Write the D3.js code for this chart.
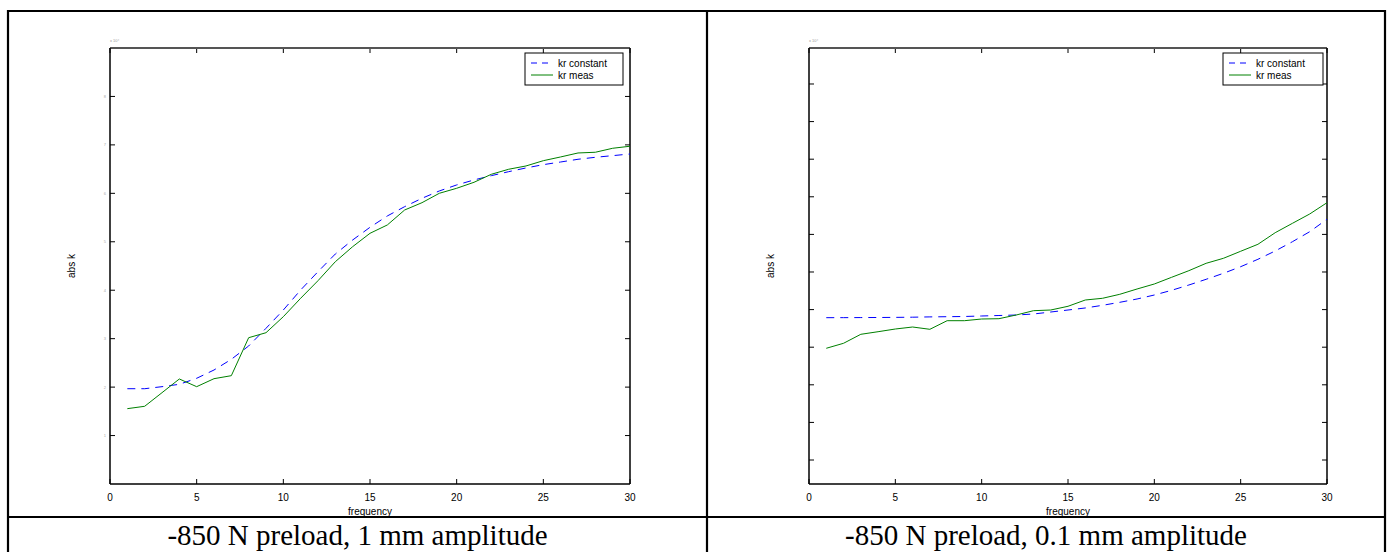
<!DOCTYPE html>
<html><head><meta charset="utf-8">
<script src="https://cdn.jsdelivr.net/npm/d3@7"></script>
<style>body{margin:0;background:#fff} svg{display:block}</style>
</head><body><svg id="c" width="1391" height="552"></svg>
<script>
const frequency = [1,2,3,4,5,6,7,8,9,10,11,12,13,14,15,16,17,18,19,20,21,22,23,24,25,26,27,28,29,30];
const leftConstant = [1.967,1.967,2.009,2.058,2.182,2.353,2.574,2.849,3.214,3.592,4.005,4.383,4.748,5.037,5.299,5.533,5.725,5.898,6.049,6.173,6.276,6.365,6.447,6.524,6.592,6.647,6.703,6.744,6.778,6.812];
const leftMeas = [1.555,1.604,1.885,2.168,2.009,2.174,2.236,3.020,3.123,3.454,3.834,4.197,4.589,4.899,5.175,5.347,5.656,5.807,6.001,6.104,6.228,6.393,6.497,6.565,6.674,6.751,6.833,6.848,6.930,6.972];
const rightConstant = [3.785,3.786,3.788,3.790,3.793,3.798,3.806,3.811,3.817,3.830,3.843,3.856,3.883,3.936,3.989,4.043,4.114,4.194,4.282,4.388,4.513,4.654,4.806,4.965,5.141,5.338,5.559,5.806,6.072,6.402];
const rightMeas = [2.971,3.104,3.343,3.412,3.484,3.537,3.476,3.705,3.705,3.750,3.758,3.856,3.971,3.989,4.088,4.255,4.301,4.407,4.548,4.681,4.859,5.035,5.231,5.364,5.551,5.737,6.045,6.295,6.543,6.843];
const xTicks = [0,5,10,15,20,25,30];
const leftYTicks = [1,2,3,4,5,6,7,8];
const rightYTicks = [0,1,2,3,4,5,6,7,8,9,10];
const legendLabels = ["kr constant","kr meas"];
const captions = ["-850 N preload, 1 mm amplitude","-850 N preload, 0.1 mm amplitude"];
const xLabel = "frequency", yLabel = "abs k";

const svg = d3.select("#c");
// table frame
const tbl = svg.append("g").attr("stroke","#000").attr("stroke-width",2.2);
tbl.append("line").attr("x1",8).attr("x2",8).attr("y1",10).attr("y2",552);
tbl.append("line").attr("x1",707).attr("x2",707).attr("y1",10).attr("y2",552);
tbl.append("line").attr("x1",1385).attr("x2",1385).attr("y1",10).attr("y2",552);
tbl.append("line").attr("x1",7).attr("x2",1386).attr("y1",11).attr("y2",11);
tbl.append("line").attr("x1",7).attr("x2",1386).attr("y1",517).attr("y2",517);

const panels = [
  {x0:110,x1:630,y0:48,y1:484,yDomain:[0,9],yTicks:leftYTicks,showYLabels:true,c:leftConstant,m:leftMeas,lg:[525,53],cap:captions[0],cx:357.5},
  {x0:809,x1:1327,y0:48,y1:484,yDomain:[-0.638,10.957],yTicks:rightYTicks,showYLabels:false,c:rightConstant,m:rightMeas,lg:[1223,53],cap:captions[1],cx:1046}
];

panels.forEach(p=>{
  const x = d3.scaleLinear().domain([0,30]).range([p.x0,p.x1]);
  const y = d3.scaleLinear().domain(p.yDomain).range([p.y1,p.y0]);
  const g = svg.append("g");
  // ticks inside
  const tk = g.append("g").attr("stroke","#000").attr("stroke-width",1);
  p.yTicks.forEach(t=>{
    tk.append("line").attr("x1",p.x0).attr("x2",p.x0+5).attr("y1",y(t)).attr("y2",y(t));
    tk.append("line").attr("x1",p.x1).attr("x2",p.x1-5).attr("y1",y(t)).attr("y2",y(t));
  });
  xTicks.forEach(t=>{
    tk.append("line").attr("x1",x(t)).attr("x2",x(t)).attr("y1",p.y1).attr("y2",p.y1-5);
    tk.append("line").attr("x1",x(t)).attr("x2",x(t)).attr("y1",p.y0).attr("y2",p.y0+5);
  });
  // frame
  g.append("line").attr("x1",p.x0).attr("x2",p.x1).attr("y1",p.y0).attr("y2",p.y0).attr("stroke","#555").attr("stroke-width",2);
  g.append("line").attr("x1",p.x0).attr("x2",p.x1).attr("y1",p.y1).attr("y2",p.y1).attr("stroke","#000").attr("stroke-width",1.5);
  g.append("line").attr("x1",p.x0).attr("x2",p.x0).attr("y1",p.y0).attr("y2",p.y1).attr("stroke","#000").attr("stroke-width",1.5);
  g.append("line").attr("x1",p.x1).attr("x2",p.x1).attr("y1",p.y0).attr("y2",p.y1).attr("stroke","#000").attr("stroke-width",1.5);
  // x tick labels
  g.selectAll(".xl").data(xTicks).enter().append("text")
    .attr("x",d=>x(d)).attr("y",p.y1+17).attr("text-anchor","middle")
    .attr("font-family","Liberation Sans, Arial, sans-serif").attr("font-size",10).text(d=>d);
  if(p.showYLabels){
    g.selectAll(".yl").data(p.yTicks).enter().append("text")
      .attr("x",p.x0-4).attr("y",d=>y(d)+1.5).attr("text-anchor","end")
      .attr("font-family","Liberation Sans, Arial, sans-serif").attr("font-size",4).attr("fill","#aaa").text(d=>d);
  }
  g.append("text").attr("x",p.x0).attr("y",p.y0-6).attr("font-family","Liberation Sans, Arial, sans-serif")
    .attr("font-size",4).attr("fill","#999").text("x 10⁴");
  g.append("text").attr("x",(p.x0+p.x1)/2).attr("y",p.y1+31).attr("text-anchor","middle")
    .attr("font-family","Liberation Sans, Arial, sans-serif").attr("font-size",10).text(xLabel);
  g.append("text").attr("transform",`translate(${p.x0-35},${(p.y0+p.y1)/2}) rotate(-90)`).attr("text-anchor","middle")
    .attr("font-family","Liberation Sans, Arial, sans-serif").attr("font-size",10).text(yLabel);
  // lines
  const line = d3.line().x((d,i)=>x(frequency[i])).y(d=>y(d));
  g.append("path").datum(p.c).attr("d",line).attr("fill","none").attr("stroke","#0000ff").attr("stroke-width",1).attr("stroke-dasharray","8,6");
  g.append("path").datum(p.m).attr("d",line).attr("fill","none").attr("stroke","#008000").attr("stroke-width",1);
  // legend
  const [lx,ly] = p.lg;
  const lgG = g.append("g");
  lgG.append("rect").attr("x",lx).attr("y",ly).attr("width",p===panels[0]?98:100).attr("height",32).attr("fill","#fff").attr("stroke","#000").attr("stroke-width",1);
  lgG.append("line").attr("x1",lx+6).attr("x2",lx+28).attr("y1",ly+10).attr("y2",ly+10).attr("stroke","#0000ff").attr("stroke-dasharray","6,5");
  lgG.append("line").attr("x1",lx+6).attr("x2",lx+28).attr("y1",ly+22).attr("y2",ly+22).attr("stroke","#008000");
  legendLabels.forEach((t,i)=>{
    lgG.append("text").attr("x",lx+33).attr("y",ly+13.5+i*12).attr("font-family","Liberation Sans, Arial, sans-serif").attr("font-size",10).text(t);
  });
  // caption
  svg.append("text").attr("x",p.cx).attr("y",545).attr("text-anchor","middle")
    .attr("font-family","Liberation Serif, Times New Roman, serif").attr("font-size",29).text(p.cap);
});
</script></body></html>
